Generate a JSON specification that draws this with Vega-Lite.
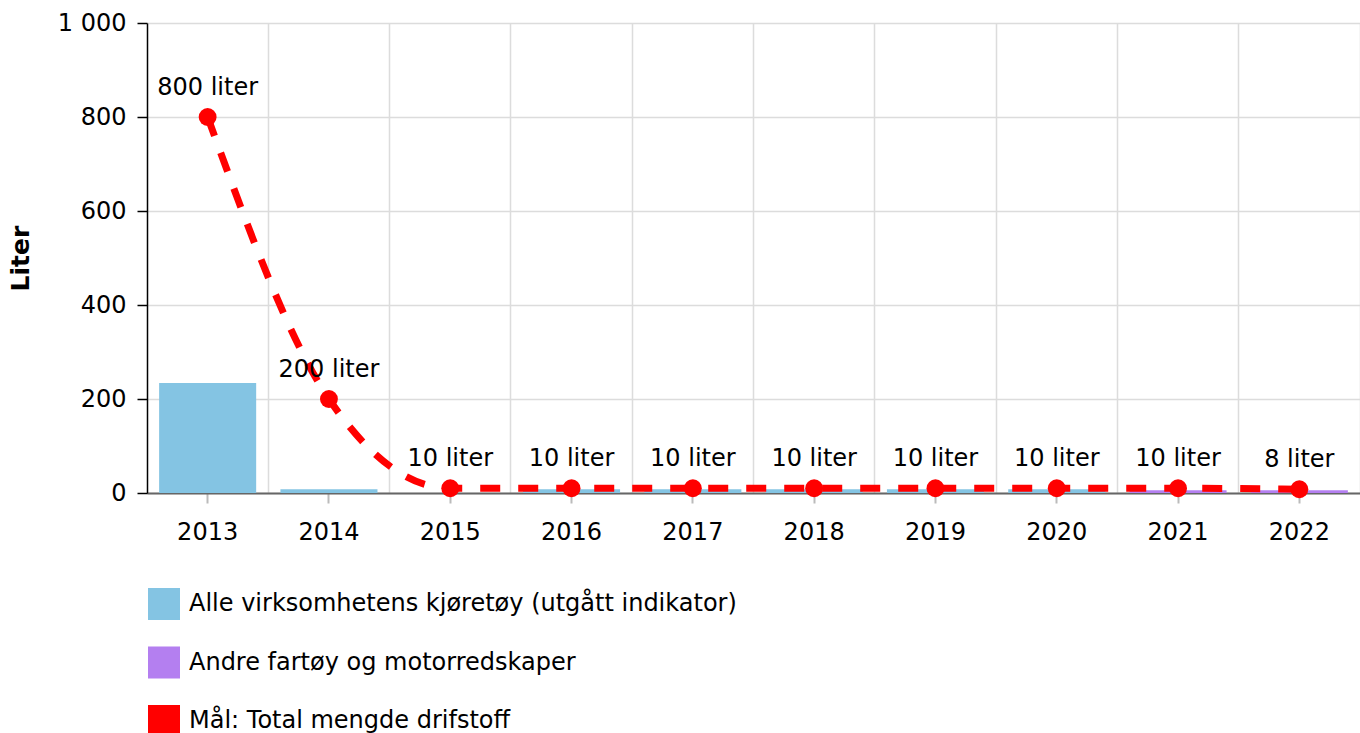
{
  "$schema": "https://vega.github.io/schema/vega-lite/v6.json",
  "width": 1213,
  "height": 470,
  "autosize": {"type": "none"},
  "padding": {"left": 147, "top": 23, "right": 0, "bottom": 240},
  "config": {
    "font": "DejaVu Sans",
    "view": {"stroke": null},
    "axis": {"labelFontSize": 24, "labelColor": "#000", "titleFontSize": 25, "titleColor": "#000", "gridColor": "#dcdcdc", "gridWidth": 1.5}
  },
  "datasets": {
    "bars": [
      {"aar": "2013", "serie": "Alle virksomhetens kjøretøy (utgått indikator)", "liter": 234},
      {"aar": "2014", "serie": "Alle virksomhetens kjøretøy (utgått indikator)", "liter": 8},
      {"aar": "2016", "serie": "Alle virksomhetens kjøretøy (utgått indikator)", "liter": 8},
      {"aar": "2017", "serie": "Alle virksomhetens kjøretøy (utgått indikator)", "liter": 8},
      {"aar": "2018", "serie": "Alle virksomhetens kjøretøy (utgått indikator)", "liter": 8},
      {"aar": "2019", "serie": "Alle virksomhetens kjøretøy (utgått indikator)", "liter": 8},
      {"aar": "2020", "serie": "Alle virksomhetens kjøretøy (utgått indikator)", "liter": 8},
      {"aar": "2021", "serie": "Andre fartøy og motorredskaper", "liter": 6},
      {"aar": "2022", "serie": "Andre fartøy og motorredskaper", "liter": 6}
    ],
    "mal": [
      {"aar": "2013", "liter": 800, "tekst": "800 liter"},
      {"aar": "2014", "liter": 200, "tekst": "200 liter"},
      {"aar": "2015", "liter": 10, "tekst": "10 liter"},
      {"aar": "2016", "liter": 10, "tekst": "10 liter"},
      {"aar": "2017", "liter": 10, "tekst": "10 liter"},
      {"aar": "2018", "liter": 10, "tekst": "10 liter"},
      {"aar": "2019", "liter": 10, "tekst": "10 liter"},
      {"aar": "2020", "liter": 10, "tekst": "10 liter"},
      {"aar": "2021", "liter": 10, "tekst": "10 liter"},
      {"aar": "2022", "liter": 8, "tekst": "8 liter"}
    ]
  },
  "layer": [
    {
      "data": {"name": "bars"},
      "mark": {"type": "bar"},
      "encoding": {
        "x": {
          "field": "aar", "type": "ordinal",
          "scale": {"domain": ["2013","2014","2015","2016","2017","2018","2019","2020","2021","2022"], "paddingInner": 0.2, "paddingOuter": 0.1},
          "axis": {"orient": "bottom", "title": null, "grid": false, "labelAngle": 0, "domainColor": "#666", "domainWidth": 2, "tickColor": "#bbb", "tickWidth": 2, "tickSize": 10, "labelPadding": 17}
        },
        "y": {
          "field": "liter", "type": "quantitative",
          "scale": {"domain": [0, 1000], "nice": false},
          "axis": {"title": "Liter", "values": [0, 200, 400, 600, 800, 1000], "labelExpr": "replace(format(datum.value, ','), ',', ' ')", "domainColor": "#000", "domainWidth": 1.5, "tickColor": "#000", "tickWidth": 1.5, "tickSize": 10, "labelPadding": 11, "titlePadding": 24, "titleFontWeight": "bold"}
        },
        "color": {
          "field": "serie", "type": "nominal",
          "scale": {"domain": ["Alle virksomhetens kjøretøy (utgått indikator)", "Andre fartøy og motorredskaper", "Mål: Total mengde drifstoff"], "range": ["#84c4e3", "#b47ff0", "#ff0000"]},
          "legend": {"title": null, "orient": "none", "legendX": 0, "legendY": 564, "direction": "vertical", "symbolType": "square", "symbolSize": 1024, "symbolOpacity": 1, "labelFontSize": 24, "labelColor": "#000", "labelOffset": 8, "rowPadding": 25.5, "labelLimit": 900}
        }
      }
    },
    {
      "data": {"name": "mal"},
      "mark": {"type": "line", "interpolate": "monotone", "strokeDash": [20, 18], "strokeWidth": 7, "color": "#ff0000"},
      "encoding": {
        "x": {"field": "aar", "type": "ordinal", "axis": {"orient": "top", "title": null, "grid": true, "bandPosition": 1.125, "labels": false, "ticks": false, "domain": false}},
        "y": {"field": "liter", "type": "quantitative"}
      }
    },
    {
      "data": {"name": "mal"},
      "mark": {"type": "point", "filled": true, "size": 320, "opacity": 1, "color": "#ff0000"},
      "encoding": {
        "x": {"field": "aar", "type": "ordinal", "axis": null},
        "y": {"field": "liter", "type": "quantitative"}
      }
    },
    {
      "data": {"name": "mal"},
      "mark": {"type": "text", "fontSize": 24, "color": "#000", "baseline": "alphabetic", "dy": -22},
      "encoding": {
        "x": {"field": "aar", "type": "ordinal", "axis": null},
        "y": {"field": "liter", "type": "quantitative"},
        "text": {"field": "tekst"}
      }
    }
  ],
  "resolve": {"axis": {"x": "independent"}}
}
